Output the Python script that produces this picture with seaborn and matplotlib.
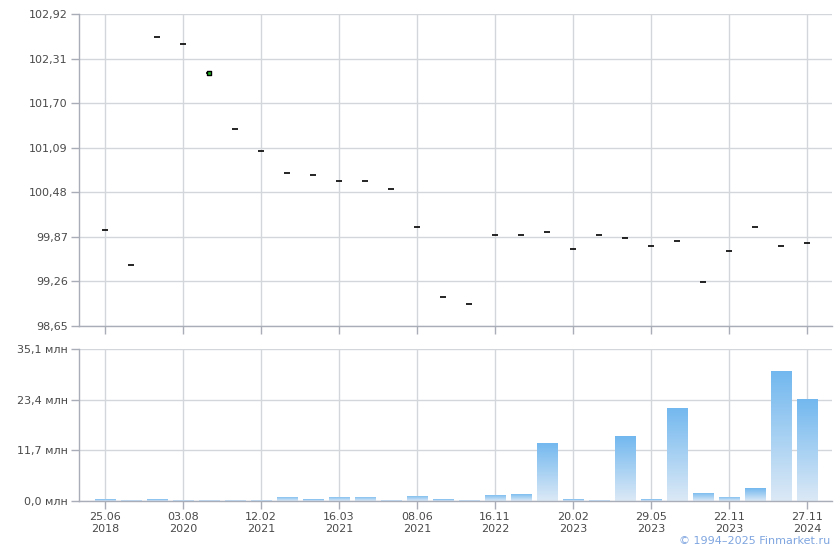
"""Bond price / volume chart in the Finmarket style."""

import matplotlib

matplotlib.use("Agg")
import matplotlib.pyplot as plt  # noqa: E402
import numpy as np
import pandas as pd
import seaborn as sns
from matplotlib.colors import LinearSegmentedColormap

# closing prices, % of face value
prices = [99.97, 99.49, 102.60, 102.51, 102.11, 101.34, 101.05, 100.74, 100.71, 100.64,
          100.64, 100.53, 100.01, 99.04, 98.95, 99.89, 99.89, 99.93, 99.70, 99.89,
          99.85, 99.75, 99.82, 99.25, 99.67, 100.00, 99.75, 99.78]
# trade volume, mln
volumes = [0.45, 0.25, 0.45, 0.25, 0.25, 0.25, 0.25, 1.0, 0.45, 1.0,
           1.0, 0.25, 1.2, 0.45, 0.25, 1.45, 1.7, 13.4, 0.45, 0.25,
           15.0, 0.45, 21.5, 1.85, 0.95, 3.0, 30.0, 23.55]
highlight = 4  # the marked point
tick_labels = ["25.06\n2018", "03.08\n2020", "12.02\n2021", "16.03\n2021", "08.06\n2021",
               "16.11\n2022", "20.02\n2023", "29.05\n2023", "22.11\n2023", "27.11\n2024"]
price_ticks = [98.65, 99.26, 99.87, 100.48, 101.09, 101.70, 102.31, 102.92]
volume_ticks = [0.0, 11.7, 23.4, 35.1]

GRID = "#d3d7dc"
SPINE = "#a9adb8"
TEXT = "#4a4a4a"

df = pd.DataFrame({"i": np.arange(len(prices)), "price": prices, "volume": volumes})
tick_pos = list(range(0, len(prices), 3))

sns.set_theme(style="white")
plt.rcParams["font.family"] = ["DejaVu Sans"]

fig = plt.figure(figsize=(8.4, 5.5), dpi=100)
ax_p = fig.add_axes([0.094, 0.4073, 0.896, 0.5672])
ax_v = fig.add_axes([0.094, 0.0891, 0.896, 0.2764])


def _style(ax):
    ax.set_xlim(-1, len(prices) - 0.05)
    ax.set_xticks(tick_pos)
    ax.grid(True, color=GRID, linewidth=1)
    ax.set_axisbelow(True)
    for side in ("top", "right"):
        ax.spines[side].set_visible(False)
    for side in ("left", "bottom"):
        ax.spines[side].set_color(SPINE)
        ax.spines[side].set_linewidth(1)
    ax.tick_params(axis="both", colors=SPINE, labelcolor=TEXT, labelsize=8,
                   length=6, width=1, left=True, bottom=True, pad=2)
    ax.set_xlabel("")
    ax.set_ylabel("")


# price panel
sns.scatterplot(data=df, x="i", y="price", marker="_", s=16, color="black",
                linewidth=1.2, ax=ax_p, legend=False)
sns.scatterplot(data=df.iloc[[highlight]], x="i", y="price", marker="s", s=8,
                color="#22bb22", edgecolor="black", linewidth=1.0, ax=ax_p, legend=False)
_style(ax_p)
ax_p.set_ylim(price_ticks[0], price_ticks[-1])
ax_p.set_yticks(price_ticks)
ax_p.set_yticklabels([f"{v:.2f}".replace(".", ",") for v in price_ticks])
ax_p.set_xticklabels([])

# volume panel
sns.barplot(data=df, x="i", y="volume", color="#74b9ef", width=0.8, ax=ax_v,
            saturation=1)
_style(ax_v)
ax_v.set_ylim(0, volume_ticks[-1])
ax_v.set_yticks(volume_ticks)
ax_v.set_yticklabels([f"{v:.1f} млн".replace(".", ",") for v in volume_ticks])
ax_v.set_xticklabels(tick_labels)

# vertical gradient on each bar: dark on top, pale at the base
cmap = LinearSegmentedColormap.from_list("vol", ["#dce9f6", "#72b8ef"])
grad = np.linspace(0, 1, 256).reshape(-1, 1)
for bar in ax_v.patches:
    x0, w, h = bar.get_x(), bar.get_width(), bar.get_height()
    if h <= 0:
        continue
    img = ax_v.imshow(grad, cmap=cmap, aspect="auto", origin="lower",
                      extent=(x0, x0 + w, 0, h), zorder=bar.get_zorder())
    img.set_clip_path(bar)
    bar.set_facecolor("none")
    bar.set_edgecolor("none")
ax_v.set_xlim(-1, len(prices) - 0.05)
ax_v.set_ylim(0, volume_ticks[-1])

fig.text(0.988, 0.008, "© 1994–2025 Finmarket.ru", ha="right", va="bottom",
         fontsize=8, color="#7ea5e0")

fig.savefig("out.png", dpi=100)
plt.close(fig)
